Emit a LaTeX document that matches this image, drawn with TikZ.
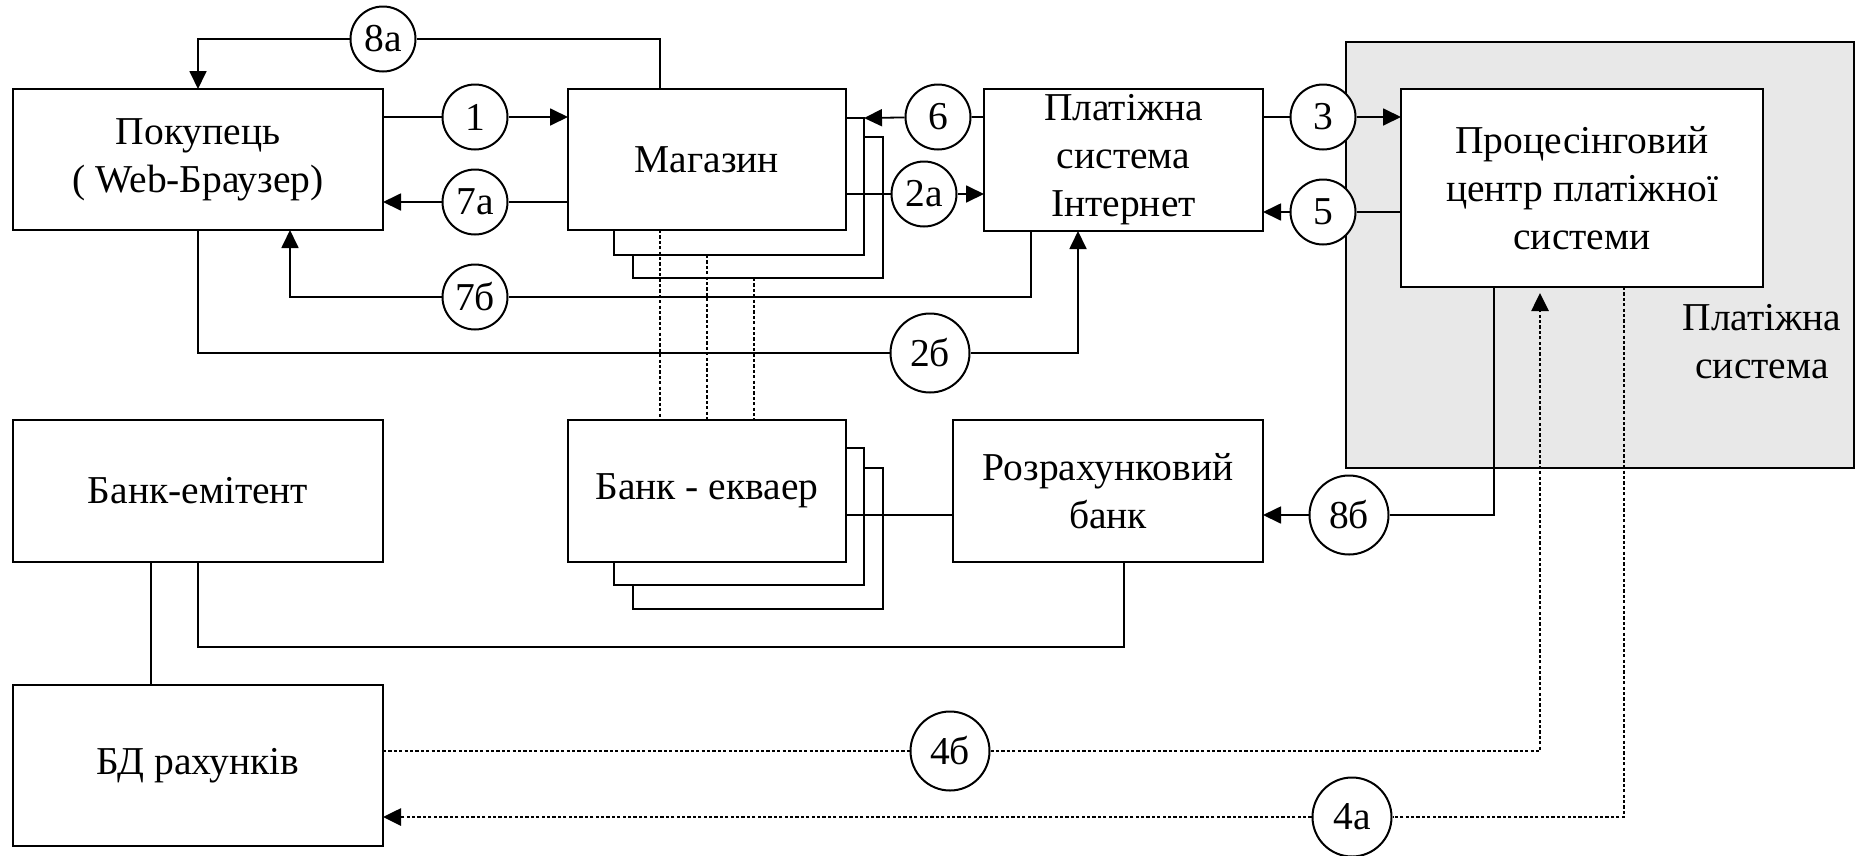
\documentclass[tikz,border=0pt]{standalone}
\usepackage{fontspec}
\setmainfont{Liberation Serif}
\usetikzlibrary{arrows.meta}
\begin{document}
\begin{tikzpicture}[x=1pt,y=-1pt,
  every node/.style={font=\fontsize{39.5}{48}\selectfont},
  blk/.style={draw,line width=2pt,fill=white,align=center,inner sep=0pt,outer sep=0pt},
  lay/.style={draw,line width=2pt,fill=white,inner sep=0pt,outer sep=0pt},
  num/.style={draw,circle,line width=2pt,fill=white,inner sep=0pt,minimum size=65pt},
  bignum/.style={num,minimum size=79pt},
  con/.style={line width=1.8pt},
  arr/.style={-{Triangle[length=18pt,width=17pt]}},
  dotline/.style={line width=2.7pt,dash pattern=on 3.2pt off 2.2pt}
]
\useasboundingbox (0,0) rectangle (1858,855);

% payment system area
\node[draw,line width=2pt,fill=black!9,minimum width=508pt,minimum height=426pt,inner sep=0pt] (ps) at (1600,255) {};
\node[align=center] (pslbl) at (1762,342) {Платіжна\\система};

% boxes
\node[blk,minimum width=370pt,minimum height=141pt] (pok) at (198,159.5) {Покупець\\( Web-Браузер)};
\node[lay,minimum width=250pt,minimum height=141pt] (ms2) at (758,207.5) {};
\node[lay,minimum width=250pt,minimum height=137pt] (ms1) at (739,186.5) {};
\node[blk,minimum width=278pt,minimum height=141pt] (mag) at (707,159.5) {Магазин};
\node[blk,minimum width=279pt,minimum height=142pt] (inet) at (1123.5,160) {Платіжна\\система\\Інтернет};
\node[blk,minimum width=362pt,minimum height=198pt] (proc) at (1582,188) {Процесінговий\\центр платіжної\\системи};

\node[blk,minimum width=370pt,minimum height=142pt] (emit) at (198,491) {Банк-емітент};
\node[lay,minimum width=250pt,minimum height=141pt] (bs2) at (758,538.5) {};
\node[lay,minimum width=250pt,minimum height=137pt] (bs1) at (739,516.5) {};
\node[blk,minimum width=278pt,minimum height=142pt] (bank) at (707,491) {Банк - екваер};
\node[blk,minimum width=310pt,minimum height=142pt] (rozr) at (1108,491) {Розрахунковий\\банк};
\node[blk,minimum width=370pt,minimum height=161pt] (bd) at (198,765.5) {БД рахунків};

% numbered markers
\node[num] (c8a) at (383,39) {8а};
\node[num] (c1) at (475,117) {1};
\node[num] (c7a) at (475,202) {7а};
\node[num] (c7b) at (475,297) {7б};
\node[num] (c6) at (938,117) {6};
\node[num] (c2a) at (924,194) {2а};
\node[bignum] (c2b) at (930,353) {2б};
\node[num] (c3) at (1323,117) {3};
\node[num] (c5) at (1323,212) {5};
\node[bignum] (c8b) at (1349,515) {8б};
\node[bignum] (c4b) at (950,751) {4б};
\node[bignum] (c4a) at (1352,817) {4а};

% connectors
\draw[con,arr] (pok.east |- c1) -- (c1) -- (mag.west |- c1);
\draw[con,arr] (mag.west |- c7a) -- (c7a) -- (pok.east |- c7a);
\draw[con,arr] ([xshift=-47pt]mag.north) |- (c8a) -| (pok.north);
\draw[con,arr] ([xshift=-92.5pt]inet.south) |- (c7b) -| ([xshift=92pt]pok.south);
\draw[con,arr] (pok.south) |- (c2b) -| ([xshift=-45.5pt]inet.south);
\draw[con,arr] (inet.west |- c6) -- (c6) -- (ms1.north east);
\draw[con,arr] (mag.east |- c2a) -- (c2a) -- (inet.west |- c2a);
\draw[con,arr] (inet.east |- c3) -- (c3) -- (proc.west |- c3);
\draw[con,arr] (proc.west |- c5) -- (c5) -- (inet.east |- c5);
\draw[con] ([yshift=-24pt]bank.east) -- ([yshift=-24pt]rozr.west);
\draw[con,arr] ([xshift=-88pt]proc.south) |- (c8b) -- (rozr.east |- c8b);
\draw[con] ([xshift=-47pt]emit.south) -- ([xshift=-47pt]bd.north);
\draw[con] (emit.south) |- ([xshift=16pt,yshift=-85pt]rozr.south) -- ([xshift=16pt]rozr.south);

% dotted links
\draw[dotline] ([xshift=-47pt]mag.south) -- ([xshift=-47pt]bank.north);
\draw[dotline] (mag.south |- ms1.south) -- (bank.north);
\draw[dotline] ([xshift=-4pt]ms2.south) -- ([xshift=-4pt]ms2.south |- bank.north);
\draw[dotline,arr] (bd.east |- c4b) -- (c4b) -| ([xshift=-42pt,yshift=-6pt]proc.south);
\draw[dotline,arr] ([xshift=42pt]proc.south) |- (c4a) -- (bd.east |- c4a);
\end{tikzpicture}
\end{document}
